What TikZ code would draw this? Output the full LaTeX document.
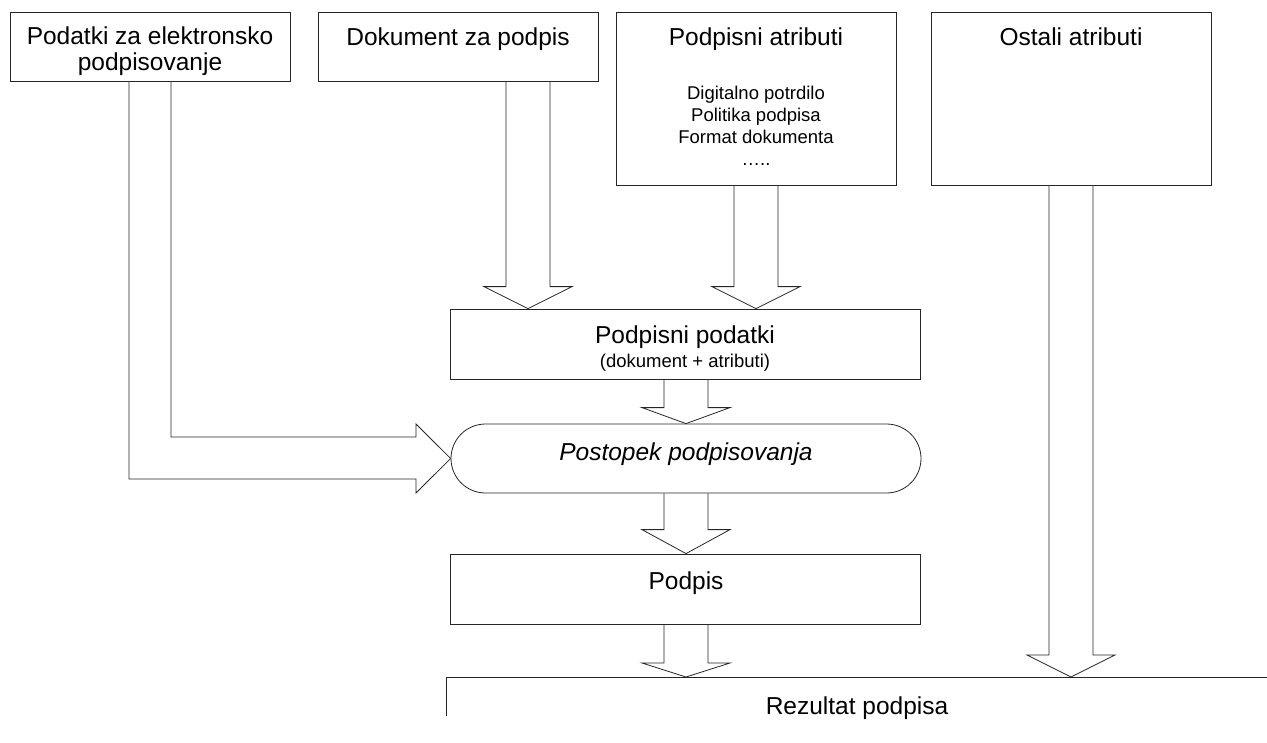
\documentclass[tikz,border=0pt]{standalone}
\usepackage{fontspec}
\setmainfont{Liberation Sans}
\usetikzlibrary{shapes.misc,calc}

% downward block arrow: #1 x of its axis, #2 source node, #3 target node, #4 head length
\newcommand{\blockdown}[4]{%
  \draw[blockarrow] let \p1=(#1,0 |- #2.south), \p2=(#1,0 |- #3.north) in
    (\x1-22pt,\y1) -- (\x1-22pt,\y2+#4) -- (\x1-44pt,\y2+#4) -- (\x2,\y2)
    -- (\x1+44pt,\y2+#4) -- (\x1+22pt,\y2+#4) -- (\x1+22pt,\y1);}

\begin{document}
\begin{tikzpicture}[x=1pt,y=-1pt,
  box/.style={draw=black!85, line width=0.8pt, rectangle, inner sep=0pt},
  pill/.style={draw=black!85, line width=0.8pt, rounded rectangle, inner sep=0pt},
  big/.style={font=\fontsize{24.5}{28}\selectfont, anchor=base, inner sep=0pt},
  small/.style={font=\fontsize{18.5}{22}\selectfont, anchor=base, inner sep=0pt},
  blockarrow/.style={draw=black!85, line width=0.8pt, line join=miter}]

\useasboundingbox (0,0) rectangle (1267,742);

% input boxes
\node[box, minimum width=280pt, minimum height=69pt]  (podatki)  at (150,46.5) {};
\node[box, minimum width=280pt, minimum height=69pt]  (dokument) at (458,46.5) {};
\node[box, minimum width=280pt, minimum height=173pt] (atributi) at (756,98.5) {};
\node[box, minimum width=280pt, minimum height=173pt] (ostali)   at (1071,98.5) {};

% processing chain
\node[box, minimum width=470pt, minimum height=70pt]  (podpisni) at (685,344) {};
\node[pill, minimum width=470pt, minimum height=69pt] (postopek) at (686,458.5) {};
\node[box, minimum width=470pt, minimum height=70pt]  (podpis)   at (685,589) {};

% result box, running off the page
\coordinate (rezultat) at (446,677);
\draw[black!85, line width=0.8pt] (446,716) -- (rezultat) -- (1267,677);

% texts
\node[big] (t1a) at (150,44) {Podatki za elektronsko};
\node[big] (t1b) at (150,70) {podpisovanje};
\node[big] (t2)  at (458,45) {Dokument za podpis};
\node[big] (t3)  at (756,45) {Podpisni atributi};
\node[small] (t3a) at (756,99)  {Digitalno potrdilo};
\node[small] (t3b) at (756,121) {Politika podpisa};
\node[small] (t3c) at (756,143) {Format dokumenta};
\node[small] (t3d) at (756,165) {…..};
\node[big] (t4)  at (1071,45) {Ostali atributi};
\node[big] (t5)  at (685,343) {Podpisni podatki};
\node[small] (t5a) at (685,367) {(dokument + atributi)};
\node[big, font=\fontsize{24.5}{28}\selectfont\itshape] (t6) at (686,460) {Postopek podpisovanja};
\node[big] (t7)  at (686,589) {Podpis};
\node[big] (t8)  at (857,714) {Rezultat podpisa};

% block arrows
\blockdown{528}{dokument}{podpisni}{22pt}
\blockdown{756}{atributi}{podpisni}{22pt}
\blockdown{686}{podpisni}{postopek}{16pt}
\blockdown{686}{postopek}{podpis}{24pt}
\blockdown{686}{podpis}{rezultat}{14pt}
\blockdown{1071}{ostali}{rezultat}{22pt}

% bent block arrow from the signing data into the process
\draw[blockarrow] (129,0 |- podatki.south) -- (129,479) -- (416,479) -- (416,493)
  -- (postopek.west) -- (416,424) -- (416,437) -- (171,437) -- (171,0 |- podatki.south);

\end{tikzpicture}
\end{document}
